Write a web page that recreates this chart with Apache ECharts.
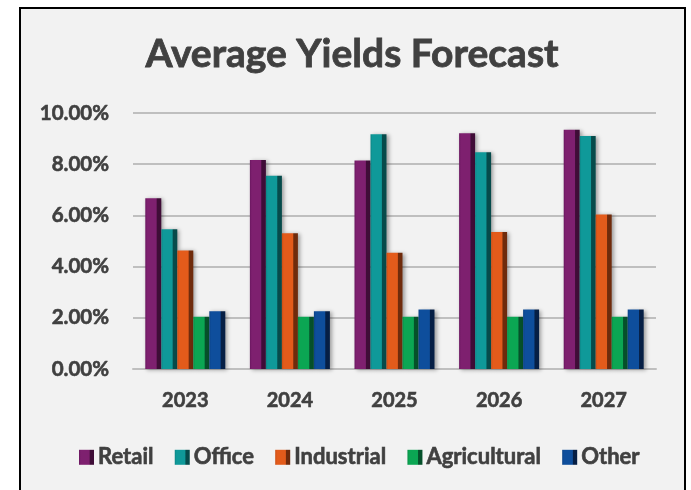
<!DOCTYPE html>
<html>
<head>
<meta charset="utf-8">
<script src="https://cdn.jsdelivr.net/npm/echarts@6/dist/echarts.min.js"></script>
<style>
  html, body { margin: 0; padding: 0; background: #ffffff; }
  #frame {
    position: absolute; left: 19px; top: 7px;
    width: 663px; height: 500px;
    border: 2px solid #000000; background: #f2f2f2;
  }
  #chart { position: absolute; left: 0; top: 0; width: 691px; height: 490px; }
</style>
</head>
<body>
<div id="frame"></div>
<div id="chart"></div>
<script>
// Forecast average yields by property sector (percent)
const years = ['2023', '2024', '2025', '2026', '2027'];
const retail       = [6.67, 8.16, 8.14, 9.21, 9.35];
const office       = [5.46, 7.55, 9.17, 8.47, 9.10];
const industrial   = [4.63, 5.30, 4.54, 5.35, 6.04];
const agricultural = [2.04, 2.04, 2.04, 2.04, 2.04];
const other        = [2.26, 2.26, 2.32, 2.32, 2.32];

const FONT = 'Lato';
const TEXT = '#404040';
// a thin outline in the text colour gives the labels a heavier weight
const HEAVY = { textBorderColor: TEXT, textBorderWidth: 0.6 };

// Bevelled column look: light face, dark shaded right side
function bevel(edge, face, shade) {
  return new echarts.graphic.LinearGradient(0, 0, 1, 0, [
    { offset: 0, color: edge },
    { offset: 0.12, color: face },
    { offset: 0.68, color: face },
    { offset: 0.74, color: shade },
    { offset: 1, color: shade }
  ]);
}

function barSeries(name, data, edge, face, shade) {
  return {
    name: name,
    type: 'bar',
    data: data,
    barWidth: 16,
    barGap: '0%',
    itemStyle: {
      color: bevel(edge, face, shade),
      shadowColor: 'rgba(0,0,0,0.35)',
      shadowBlur: 4,
      shadowOffsetX: 2,
      shadowOffsetY: 1
    }
  };
}

const chart = echarts.init(document.getElementById('chart'), null, { renderer: 'canvas' });
chart.setOption({
  backgroundColor: 'transparent',
  animation: false,
  title: {
    text: 'Average Yields Forecast',
    left: 347,
    textAlign: 'center',
    top: 30,
    textStyle: Object.assign({ fontFamily: FONT, fontWeight: 'bold', fontSize: 39, color: TEXT }, { textBorderColor: TEXT, textBorderWidth: 0.8 })
  },
  legend: {
    left: 74,
    top: 441,
    itemWidth: 15,
    itemHeight: 15,
    itemGap: 21,
    icon: 'rect',
    textStyle: Object.assign({ fontFamily: FONT, fontWeight: 'bold', fontSize: 22, color: TEXT, padding: [0, 0, 0, -1] }, HEAVY)
  },
  grid: { left: 133, right: 35, top: 113, bottom: 121, containLabel: false },
  xAxis: {
    type: 'category',
    data: years,
    axisLine: { show: true, lineStyle: { color: '#bfbfbf', width: 2 } },
    axisTick: { show: false },
    axisLabel: Object.assign({ fontFamily: FONT, fontWeight: 'bold', fontSize: 20, color: TEXT, margin: 22 }, HEAVY)
  },
  yAxis: {
    type: 'value',
    min: 0,
    max: 10,
    interval: 2,
    axisLine: { show: false },
    axisTick: { show: false },
    splitLine: { lineStyle: { color: '#bfbfbf', width: 2 } },
    axisLabel: Object.assign({
      fontFamily: FONT, fontWeight: 'bold', fontSize: 20.5, color: TEXT, margin: 24,
      formatter: v => v.toFixed(2) + '%'
    }, HEAVY)
  },
  series: [
    barSeries('Retail', retail, '#6a1760', '#7e206f', '#3f0d37'),
    barSeries('Office', office, '#0c8585', '#0f9999', '#064b4b'),
    barSeries('Industrial', industrial, '#c94e15', '#e35b1b', '#6f2b0c'),
    barSeries('Agricultural', agricultural, '#098f47', '#0ba653', '#05502a'),
    barSeries('Other', other, '#0b4287', '#0e4e9c', '#061f45')
  ]
});
</script>
</body>
</html>
